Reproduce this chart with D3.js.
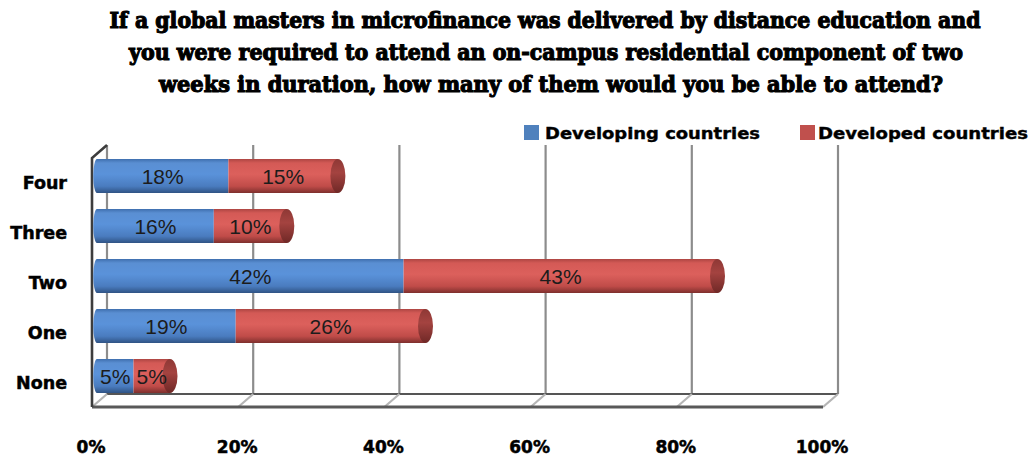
<!DOCTYPE html>
<html>
<head>
<meta charset="utf-8">
<script src="https://cdn.jsdelivr.net/npm/d3@7"></script>
<style>
  html, body { margin: 0; padding: 0; background: #fff; }
  svg { display: block; }
</style>
</head>
<body>
<svg id="chart" width="1032" height="460"></svg>
<script>
// Survey answers: number of two-week residential components respondents could attend
const categories = ["Four", "Three", "Two", "One", "None"];
const developing = [18, 16, 42, 19, 5];
const developed = [15, 10, 43, 26, 5];
const seriesNames = ["Developing countries", "Developed countries"];
const tickValues = [0, 20, 40, 60, 80, 100];
const titleLines = [
  "If a global masters in microfinance was delivered by distance education and",
  "you were required  to attend an on-campus residential component of two",
  "weeks in duration, how many of them would you be able to attend?"
];

const svg = d3.select("#chart");

// 3D box geometry: bars sit just in front of the back wall
const unit = 7.31;                // pixels per percent on the walls
const depth = { dx: 15, dy: 13 };
const frontX0 = 92, backX0 = frontX0 + depth.dx;
const floorFrontY = 407, floorBackY = floorFrontY - depth.dy;
const wallTopBack = 145;

const x = d3.scaleLinear().domain([0, 100]).range([97, 97 + 100 * 7.3]);
const xBack = d3.scaleLinear().domain([0, 100]).range([backX0, backX0 + 100 * unit]);
const xFront = d3.scaleLinear().domain([0, 100]).range([frontX0, frontX0 + 100 * unit]);
const y = d3.scaleBand().domain(categories).range([151, 401]).paddingInner(0.32).paddingOuter(0.16);

const defs = svg.append("defs");
function cyl(id, stops) {
  const g = defs.append("linearGradient").attr("id", id)
    .attr("x1", 0).attr("y1", 0).attr("x2", 0).attr("y2", 1);
  stops.forEach(([o, c]) => g.append("stop").attr("offset", o).attr("stop-color", c));
}
cyl("gBlue", [[0, "#3f6fae"], [0.12, "#5a8fd3"], [0.45, "#5a92da"], [0.8, "#4a7cbf"], [1, "#2f5384"]]);
cyl("gRed", [[0, "#ad4542"], [0.12, "#d45a56"], [0.45, "#dc605c"], [0.8, "#c04c49"], [1, "#7e2f2d"]]);
cyl("gCap", [[0, "#8e3835"], [0.4, "#a44340"], [1, "#6f2826"]]);

// Title
const title = svg.append("g").attr("font-family", "'DejaVu Serif Condensed', 'DejaVu Serif', serif")
  .attr("font-weight", "bold").attr("font-size", 23).attr("fill", "#000")
  .attr("stroke", "#000").attr("stroke-width", 1.1);
const titleSpecs = [{ cx: 545, y: 28, w: 871 }, { cx: 546, y: 60, w: 834 }, { cx: 551, y: 92, w: 784 }];
titleLines.forEach((t, i) => {
  title.append("text").attr("x", titleSpecs[i].cx).attr("y", titleSpecs[i].y)
    .attr("text-anchor", "middle").attr("textLength", titleSpecs[i].w)
    .attr("lengthAdjust", "spacingAndGlyphs").text(t);
});

// Back-wall gridlines
const grid = svg.append("g");
grid.selectAll("line.grid").data(tickValues).join("line")
  .attr("x1", d => xBack(d)).attr("x2", d => xBack(d))
  .attr("y1", wallTopBack).attr("y2", floorBackY)
  .attr("stroke", "#8c8c8c").attr("stroke-width", 2.2);

// Floor
const floor = svg.append("g");
floor.append("line").attr("x1", xBack(0)).attr("x2", xBack(100))
  .attr("y1", floorBackY).attr("y2", floorBackY).attr("stroke", "#555").attr("stroke-width", 2.2);
floor.selectAll("line.tick").data(tickValues).join("line")
  .attr("x1", d => xFront(d)).attr("y1", floorFrontY)
  .attr("x2", d => xBack(d)).attr("y2", floorBackY)
  .attr("stroke", "#b5b5b5").attr("stroke-width", 2.2);
floor.append("line").attr("x1", xFront(0)).attr("x2", xFront(100))
  .attr("y1", floorFrontY).attr("y2", floorFrontY).attr("stroke", "#595959").attr("stroke-width", 3);

// Left wall front edge
svg.append("path")
  .attr("d", `M${xFront(0)},${floorFrontY} L${xFront(0)},${wallTopBack + depth.dy} L${xBack(0)},${wallTopBack}`)
  .attr("fill", "none").attr("stroke", "#3d3d3d").attr("stroke-width", 2.6);

// Bars drawn as horizontal cylinders
const rows = categories.map((c, i) => ({ cat: c, segs: [
  { s: 0, v: developing[i], key: 0 },
  { s: developing[i], v: developed[i], key: 1 }
]}));
const h = y.bandwidth(), rx = 7.5;
const bars = svg.append("g");
rows.forEach(r => {
  const g = bars.append("g");
  const top = y(r.cat), cy = top + h / 2;
  const end = r.segs[1].s + r.segs[1].v;
  // rounded left end
  g.append("ellipse").attr("cx", x(0)).attr("cy", cy).attr("rx", rx / 2).attr("ry", h / 2)
    .attr("fill", "url(#gBlue)");
  r.segs.forEach(sg => {
    g.append("rect").attr("x", x(sg.s)).attr("y", top)
      .attr("width", x(sg.s + sg.v) - x(sg.s)).attr("height", h)
      .attr("fill", sg.key === 0 ? "url(#gBlue)" : "url(#gRed)");
  });
  g.append("ellipse").attr("cx", x(end)).attr("cy", cy).attr("rx", rx).attr("ry", h / 2)
    .attr("fill", "url(#gCap)");
  r.segs.forEach(sg => {
    g.append("text").attr("x", (x(sg.s) + x(sg.s + sg.v)) / 2).attr("y", cy + 7.5)
      .attr("text-anchor", "middle").attr("font-family", "'Liberation Sans', Arial, sans-serif")
      .attr("font-size", 21).attr("fill", "#1c1c1c").text(sg.v + "%");
  });
});

// Category labels
svg.append("g").selectAll("text").data(categories).join("text")
  .attr("x", 67).attr("y", d => y(d) + h / 2 + 13)
  .attr("text-anchor", "end").attr("font-family", "'DejaVu Sans', sans-serif")
  .attr("font-weight", "bold").attr("font-size", 17.5).attr("fill", "#000")
  .attr("stroke", "#000").attr("stroke-width", 0.5).text(d => d);

// X tick labels
svg.append("g").selectAll("text").data(tickValues).join("text")
  .attr("x", d => xFront(d) - 1).attr("y", 453)
  .attr("text-anchor", "middle").attr("font-family", "'DejaVu Sans', sans-serif")
  .attr("font-weight", "bold").attr("font-size", 17).attr("fill", "#000")
  .attr("stroke", "#000").attr("stroke-width", 0.5).text(d => d + "%");

// Legend
const legendSpecs = [
  { sx: 524, tx: 545, w: 215, color: "#4f81bd" },
  { sx: 800, tx: 818, w: 210, color: "#c0504d" }
];
const legend = svg.append("g");
seriesNames.forEach((n, i) => {
  const L = legendSpecs[i];
  legend.append("rect").attr("x", L.sx).attr("y", 125).attr("width", 15).attr("height", 15).attr("fill", L.color);
  legend.append("text").attr("x", L.tx).attr("y", 139).attr("font-family", "'DejaVu Sans', sans-serif")
    .attr("font-weight", "bold").attr("font-size", 16).attr("textLength", L.w)
    .attr("lengthAdjust", "spacingAndGlyphs").attr("fill", "#000")
    .attr("stroke", "#000").attr("stroke-width", 0.4).text(n);
});
</script>
</body>
</html>
